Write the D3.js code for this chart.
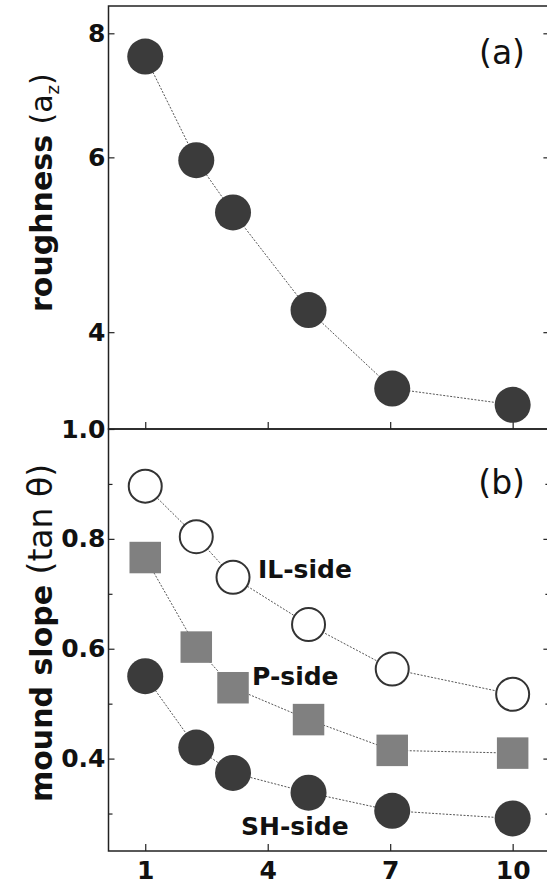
<!DOCTYPE html>
<html>
<head>
<meta charset="utf-8">
<script src="https://cdn.jsdelivr.net/npm/d3@7"></script>
<style>
  body { margin: 0; background: #fff; }
  svg { display: block; }
  .tick text { font-family: "DejaVu Sans", sans-serif; font-weight: bold; font-size: 25px; fill: #111; }
  .tick line { stroke: #222; stroke-width: 1.2; }
</style>
</head>
<body>
<svg id="chart"></svg>
<script>
// x values (shared by both panels)
var xVals = [1, 2.25, 3.15, 5, 7.05, 10];
var xTicks = [1, 4, 7, 10];

// panel (a): roughness
var roughness = [7.58, 5.96, 5.28, 4.21, 3.51, 3.38];
var roughTicks = [4, 6, 8];

// panel (b): mound slope
var slopeIL = [0.896, 0.804, 0.730, 0.644, 0.563, 0.517];
var slopeP  = [0.766, 0.603, 0.529, 0.471, 0.415, 0.410];
var slopeSH = [0.550, 0.420, 0.374, 0.338, 0.305, 0.291];
var slopeTicks = [0.4, 0.6, 0.8, 1.0];
var slopeMinor = [0.3, 0.5, 0.7, 0.9];

var W = 547, H = 886;
var left = 108.5, right = 549.4, topA = 6, botA = 429, botB = 851;

var svg = d3.select('#chart').attr('width', W).attr('height', H);

var x = d3.scaleLinear().domain([0.1, 10.9]).range([left, right]);
var yA = d3.scaleLog().domain([3.1955, 8.523]).range([botA, topA]);
var yB = d3.scaleLinear().domain([0.2318, 1.0]).range([botB, botA]);

function addAxis(axis, tx, ty) {
    var g = svg.append('g').attr('transform', 'translate(' + tx + ',' + ty + ')').call(axis);
    g.select('.domain').remove();
    return g;
}

// panel (a) axes
addAxis(d3.axisLeft(yA).tickValues(roughTicks).tickFormat(d3.format('d')).tickSize(-6).tickPadding(3), left, 0);
addAxis(d3.axisRight(yA).tickValues(roughTicks).tickFormat('').tickSize(-6), right, 0);
addAxis(d3.axisBottom(x).tickValues(xTicks).tickFormat('').tickSize(-7), 0, botA);

// panel (b) axes
addAxis(d3.axisLeft(yB).tickValues(slopeTicks).tickFormat(d3.format('.1f')).tickSize(-6).tickPadding(3), left, 0);
addAxis(d3.axisLeft(yB).tickValues(slopeMinor).tickFormat('').tickSize(-4), left, 0);
addAxis(d3.axisRight(yB).tickValues(slopeTicks.filter(function(d) { return d < 1; })).tickFormat('').tickSize(-6), right, 0);
addAxis(d3.axisRight(yB).tickValues(slopeMinor).tickFormat('').tickSize(-4), right, 0);
addAxis(d3.axisBottom(x).tickValues(xTicks).tickFormat(d3.format('d')).tickSize(-7).tickPadding(10), 0, botB);

// frames
svg.append('rect').attr('x', left).attr('y', topA).attr('width', right - left).attr('height', botA - topA)
    .attr('fill', 'none').attr('stroke', '#222').attr('stroke-width', 1.5);
svg.append('rect').attr('x', left).attr('y', botA).attr('width', right - left).attr('height', botB - botA)
    .attr('fill', 'none').attr('stroke', '#222').attr('stroke-width', 1.5);

function drawSeries(vals, yScale, shape) {
    var pts = xVals.map(function(d, i) { return [d, vals[i]]; });
    var line = d3.line()
        .x(function(d) { return x(d[0]); })
        .y(function(d) { return yScale(d[1]); });
    svg.append('path').datum(pts)
        .attr('d', line)
        .attr('fill', 'none')
        .attr('stroke', '#555')
        .attr('stroke-width', 1)
        .attr('stroke-dasharray', '2,1.5');
    var g = svg.append('g');
    if (shape === 'square') {
        g.selectAll('rect').data(pts).enter().append('rect')
            .attr('x', function(d) { return x(d[0]) - 15.75; })
            .attr('y', function(d) { return yScale(d[1]) - 15.75; })
            .attr('width', 31.5).attr('height', 31.5)
            .attr('fill', '#808080');
    } else if (shape === 'open') {
        g.selectAll('circle').data(pts).enter().append('circle')
            .attr('cx', function(d) { return x(d[0]); })
            .attr('cy', function(d) { return yScale(d[1]); })
            .attr('r', 16.5)
            .attr('fill', '#fff').attr('stroke', '#333').attr('stroke-width', 2);
    } else {
        g.selectAll('circle').data(pts).enter().append('circle')
            .attr('cx', function(d) { return x(d[0]); })
            .attr('cy', function(d) { return yScale(d[1]); })
            .attr('r', 18)
            .attr('fill', '#3b3b3b');
    }
}

drawSeries(roughness, yA, 'filled');
drawSeries(slopeIL, yB, 'open');
drawSeries(slopeP, yB, 'square');
drawSeries(slopeSH, yB, 'filled');

// panel tags
svg.append('text').attr('x', 525).attr('y', 64).attr('text-anchor', 'end')
    .style('font-family', '"DejaVu Sans", sans-serif').style('font-size', '33px').attr('fill', '#111').text('(a)');
svg.append('text').attr('x', 525).attr('y', 494).attr('text-anchor', 'end')
    .style('font-family', '"DejaVu Sans", sans-serif').style('font-size', '33px').attr('fill', '#111').text('(b)');

// series labels
var labels = [
    { t: 'IL-side', x: 258, y: 578 },
    { t: 'P-side', x: 252, y: 685 },
    { t: 'SH-side', x: 241, y: 835 }
];
svg.selectAll('.lab').data(labels).enter().append('text')
    .attr('class', 'lab')
    .attr('x', function(d) { return d.x; })
    .attr('y', function(d) { return d.y; })
    .style('font-family', '"DejaVu Sans", sans-serif').style('font-weight', 'bold').style('font-size', '25px')
    .attr('fill', '#111')
    .text(function(d) { return d.t; });

// y titles
var tA = svg.append('text').attr('transform', 'translate(52,312) rotate(-90)')
    .style('font-family', '"DejaVu Sans", sans-serif').style('font-size', '30px').attr('fill', '#111');
tA.append('tspan').style('font-weight', 'bold').text('roughness ');
tA.append('tspan').text('(a');
tA.append('tspan').attr('dy', 7).style('font-size', '18px').text('z');
tA.append('tspan').attr('dy', -7).text(')');

var tB = svg.append('text').attr('transform', 'translate(52,802) rotate(-90)')
    .style('font-family', '"DejaVu Sans", sans-serif').style('font-size', '30px').attr('fill', '#111');
tB.append('tspan').style('font-weight', 'bold').text('mound slope ');
tB.append('tspan').style('font-size', '33px').text('(tan θ)');
</script>
</body>
</html>
